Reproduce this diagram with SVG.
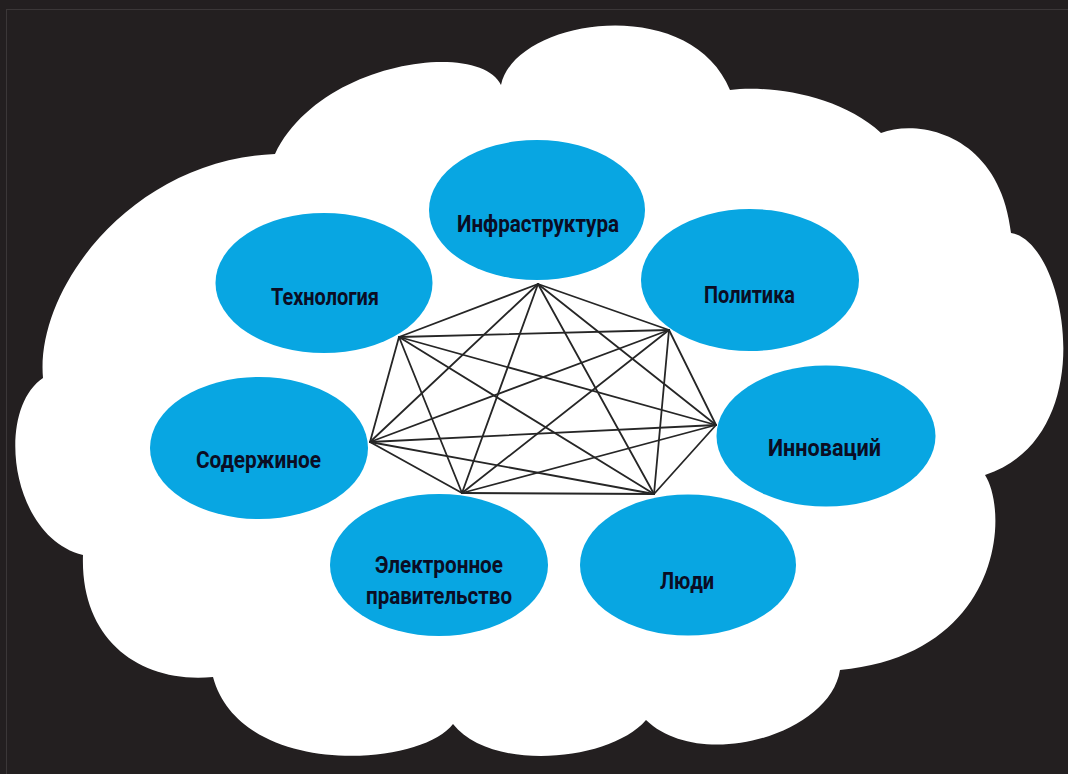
<svg xmlns="http://www.w3.org/2000/svg" width="1068" height="774" viewBox="0 0 1068 774">
<style>
.node ellipse{fill:#08a6e2}
.node text{font-family:Roboto,"Liberation Sans",sans-serif;font-weight:700;font-size:24px;fill:#0b0d24}
#connectors line{stroke:#262626;stroke-width:1.8;stroke-linecap:round}
</style>
<rect width="1068" height="774" fill="#231f20"/>
<rect x="6.5" y="9.5" width="1070" height="800" fill="none" stroke="#3b3738" stroke-width="1"/>
<path id="cloud" fill="#ffffff" d="M275,154 C320,60 480,40 501,85 C515,18 690,-8 730,90 C770,85 840,95 881,133 C920,118 1000,135 1011,233 C1065,240 1105,435 985,475 C1010,515 1000,655 840,670 C830,735 700,772 646,720 C610,762 490,772 453,724 C420,768 240,778 213,677 C140,684 80,640 83,555 C10,537 -5,410 43,378 C35,290 130,160 275,154 Z"/>
<g id="connectors">
<line x1="538" y1="284" x2="399" y2="337"/>
<line x1="538" y1="284" x2="669" y2="330"/>
<line x1="538" y1="284" x2="370" y2="442"/>
<line x1="538" y1="284" x2="716" y2="425"/>
<line x1="538" y1="284" x2="462" y2="493"/>
<line x1="538" y1="284" x2="654" y2="494"/>
<line x1="399" y1="337" x2="669" y2="330"/>
<line x1="399" y1="337" x2="370" y2="442"/>
<line x1="399" y1="337" x2="716" y2="425"/>
<line x1="399" y1="337" x2="462" y2="493"/>
<line x1="399" y1="337" x2="654" y2="494"/>
<line x1="669" y1="330" x2="370" y2="442"/>
<line x1="669" y1="330" x2="716" y2="425"/>
<line x1="669" y1="330" x2="462" y2="493"/>
<line x1="669" y1="330" x2="654" y2="494"/>
<line x1="370" y1="442" x2="716" y2="425"/>
<line x1="370" y1="442" x2="462" y2="493"/>
<line x1="370" y1="442" x2="654" y2="494"/>
<line x1="716" y1="425" x2="462" y2="493"/>
<line x1="716" y1="425" x2="654" y2="494"/>
<line x1="462" y1="493" x2="654" y2="494"/>
</g>
<g id="infrastructure" class="node">
<ellipse cx="537" cy="210" rx="108" ry="70"/>
<text x="457" y="232" textLength="162" lengthAdjust="spacingAndGlyphs">Инфраструктура</text>
</g>
<g id="technology" class="node">
<ellipse cx="324" cy="283" rx="108.5" ry="70"/>
<text x="271" y="305" textLength="108" lengthAdjust="spacingAndGlyphs">Технология</text>
</g>
<g id="policy" class="node">
<ellipse cx="750" cy="280" rx="109" ry="71"/>
<text x="704" y="303" textLength="91" lengthAdjust="spacingAndGlyphs">Политика</text>
</g>
<g id="content" class="node">
<ellipse cx="259" cy="448" rx="109" ry="71"/>
<text x="196" y="468" textLength="125" lengthAdjust="spacingAndGlyphs">Содержиное</text>
</g>
<g id="innovation" class="node">
<ellipse cx="826" cy="436" rx="109.5" ry="70.5"/>
<text x="768" y="456" textLength="113" lengthAdjust="spacingAndGlyphs">Инноваций</text>
</g>
<g id="egov" class="node">
<ellipse cx="439" cy="565" rx="109" ry="71"/>
<text x="375" y="573" textLength="128" lengthAdjust="spacingAndGlyphs">Электронное</text>
<text x="366" y="604" textLength="146" lengthAdjust="spacingAndGlyphs">правительство</text>
</g>
<g id="people" class="node">
<ellipse cx="688" cy="565" rx="108" ry="70.5"/>
<text x="660" y="589" textLength="54" lengthAdjust="spacingAndGlyphs">Люди</text>
</g>
</svg>
